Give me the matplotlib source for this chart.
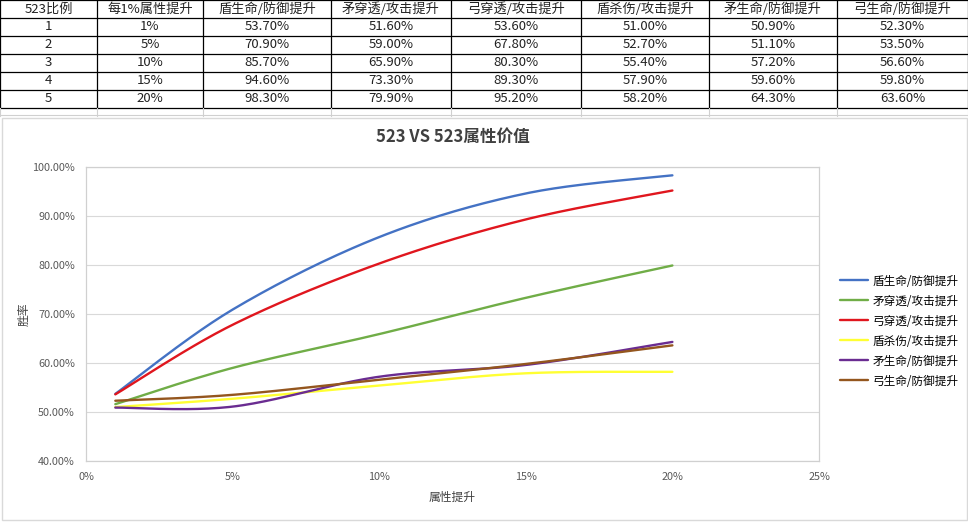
import numpy as np
import matplotlib
matplotlib.use("Agg")
import matplotlib.pyplot as plt
from matplotlib.patches import Rectangle

plt.rcParams['font.family'] = ['Noto Sans CJK SC', 'DejaVu Sans']

# 数据
boost = [1, 5, 10, 15, 20]
boost_labels = ["1%", "5%", "10%", "15%", "20%"]
series_names = ["盾生命/防御提升", "矛穿透/攻击提升", "弓穿透/攻击提升",
                "盾杀伤/攻击提升", "矛生命/防御提升", "弓生命/防御提升"]
dun_hp = [53.7, 70.9, 85.7, 94.6, 98.3]
mao_pen = [51.6, 59.0, 65.9, 73.3, 79.9]
gong_pen = [53.6, 67.8, 80.3, 89.3, 95.2]
dun_atk = [51.0, 52.7, 55.4, 57.9, 58.2]
mao_hp = [50.9, 51.1, 57.2, 59.6, 64.3]
gong_hp = [52.3, 53.5, 56.6, 59.8, 63.6]
colors = ["#4472C4", "#70AD47", "#E0161E", "#FFFF33", "#6A2C91", "#94561E"]

# 表格的列顺序
table_header = ["523比例", "每1%属性提升", "盾生命/防御提升", "矛穿透/攻击提升",
                "弓穿透/攻击提升", "盾杀伤/攻击提升", "矛生命/防御提升", "弓生命/防御提升"]
table_cols = [dun_hp, mao_pen, gong_pen, dun_atk, mao_hp, gong_hp]
col_edges = [0, 97, 203, 331, 451, 581, 709, 837, 968]
row_h = 18


def excel_smooth(xs, ys, n=40):
    # Excel 平滑线: 类 Catmull-Rom 的 Bezier
    p = np.column_stack([xs, ys]).astype(float)
    ext = np.vstack([p[0], p, p[-1]])
    out = []
    for i in range(len(p) - 1):
        p0, p1, p2, p3 = ext[i], ext[i + 1], ext[i + 2], ext[i + 3]
        c1 = p1 + (p2 - p0) / 6
        c2 = p2 - (p3 - p1) / 6
        t = np.linspace(0, 1, n)[:, None]
        seg = ((1 - t) ** 3) * p1 + 3 * ((1 - t) ** 2) * t * c1 + 3 * (1 - t) * t ** 2 * c2 + t ** 3 * p2
        out.append(seg if i == 0 else seg[1:])
    out = np.vstack(out)
    return out[:, 0], out[:, 1]


fig = plt.figure(figsize=(9.68, 5.23), dpi=100)

# ---- 表格 ----
tab = fig.add_axes([0, 0, 1, 1])
tab.set_xlim(0, 968)
tab.set_ylim(523, 0)
tab.axis('off')
n_rows = len(boost) + 1
for r in range(n_rows + 1):
    tab.plot([0, 968], [r * row_h, r * row_h], color='black', lw=0.9)
for xe in col_edges:
    tab.plot([xe, xe], [0, n_rows * row_h], color='black', lw=0.9)
for xe in col_edges:
    tab.plot([xe, xe], [n_rows * row_h, n_rows * row_h + 8], color='#d0d0d0', lw=0.8)
tab.plot([0, 968], [n_rows * row_h + 7, n_rows * row_h + 7], color='#d0d0d0', lw=0.8)

for c, h in enumerate(table_header):
    tab.text((col_edges[c] + col_edges[c + 1]) / 2, row_h / 2, h,
             ha='center', va='center', fontsize=9.5, color='#222222')
for r in range(len(boost)):
    yc = (r + 1.5) * row_h
    cells = [str(r + 1), boost_labels[r]] + ["%.2f%%" % col[r] for col in table_cols]
    for c, s in enumerate(cells):
        tab.text((col_edges[c] + col_edges[c + 1]) / 2, yc, s,
                 ha='center', va='center', fontsize=9.5, color='#222222')

# 图表外框
tab.add_patch(Rectangle((2, 118), 965, 402, fill=False, edgecolor='#d9d9d9', lw=1))

# ---- 折线图 ----
ax = fig.add_axes([86 / 968, 1 - 461 / 523, (819 - 86) / 968, (461 - 167) / 523])
series = [dun_hp, mao_pen, gong_pen, dun_atk, mao_hp, gong_hp]
for name, vals, col in zip(series_names, series, colors):
    sx, sy = excel_smooth(boost, vals)
    ax.plot(sx, sy, color=col, lw=1.7, label=name, solid_capstyle='round')

ax.set_xlim(0, 25)
ax.set_ylim(40, 100)
ax.set_xticks([0, 5, 10, 15, 20, 25])
ax.set_xticklabels(["0%", "5%", "10%", "15%", "20%", "25%"])
ax.set_yticks(np.arange(40, 101, 10))
ax.set_yticklabels(["%.2f%%" % v for v in np.arange(40, 101, 10)])
ax.grid(axis='y', color='#d9d9d9', lw=0.8)
ax.set_axisbelow(True)
for sp in ax.spines.values():
    sp.set_color('#d0d0d0')
    sp.set_linewidth(0.9)
ax.tick_params(length=0, labelsize=7.8, colors='#595959', pad=8)
ax.set_title("523 VS 523属性价值", fontsize=12, fontweight='bold', color='#404040', pad=18)
ax.set_xlabel("属性提升", fontsize=8.5, color='#404040', labelpad=6)
ax.set_ylabel("胜率", fontsize=8.5, color='#404040', labelpad=1)

ax.legend(loc='center left', bbox_to_anchor=(1.015, 0.442), frameon=False,
          fontsize=8.4, handlelength=2.4, labelspacing=0.6, handletextpad=0.35)

fig.savefig("out.png", dpi=100)
